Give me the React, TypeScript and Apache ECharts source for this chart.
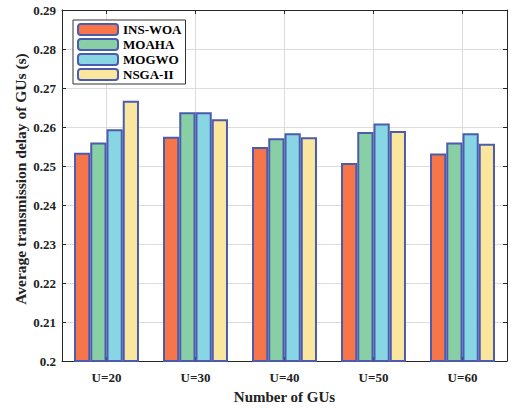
import React, { useEffect, useRef } from "react";
import * as echarts from "echarts";

const categories = ["U=20", "U=30", "U=40", "U=50", "U=60"];
const seriesNames = ["INS-WOA", "MOAHA", "MOGWO", "NSGA-II"];
const insWoa = [0.2534, 0.2575, 0.2549, 0.2508, 0.2532];
const moaha = [0.256, 0.2638, 0.2571, 0.2587, 0.256];
const mogwo = [0.2594, 0.2638, 0.2584, 0.2609, 0.2584];
const nsga2 = [0.2667, 0.262, 0.2574, 0.259, 0.2557];
const yTicks = { min: 0.2, max: 0.29, interval: 0.01 };
const yName = "Average transmission delay of GUs (s)";
const xName = "Number of GUs";

const colors = ["#F67649", "#88CFA5", "#88D5E3", "#FBE69D"];
const FONT = "'Liberation Serif', 'Times New Roman', serif";

export default function App() {
  const ref = useRef<HTMLDivElement>(null);
  useEffect(() => {
    if (!ref.current) return;
    const chart = echarts.init(ref.current, undefined, { renderer: "svg" });
    const values = [insWoa, moaha, mogwo, nsga2];
    const axisLine = { show: true, lineStyle: { color: "#262626", width: 1 } };
    chart.setOption({
      animation: false,
      backgroundColor: "#fff",
      textStyle: { fontFamily: FONT },
      grid: { left: 62, right: 4, top: 10, bottom: 48, containLabel: false },
      legend: {
        orient: "vertical",
        left: 73,
        top: 20,
        padding: [3, 4],
        itemWidth: 40,
        itemHeight: 11,
        itemGap: 2,
        backgroundColor: "#fff",
        borderColor: "#333",
        borderWidth: 1,
        borderRadius: 0,
        data: seriesNames,
        textStyle: { fontFamily: FONT, fontWeight: "bold", fontSize: 13, color: "#000", lineHeight: 13 },
      },
      graphic: [
        {
          type: "text",
          x: 20,
          y: 179,
          rotation: Math.PI / 2,
          style: {
            text: yName,
            font: `bold 15.5px ${FONT}`,
            fill: "#222",
            align: "center",
            verticalAlign: "middle",
          },
        },
      ],
      xAxis: [
        {
          type: "category",
          data: categories,
          position: "bottom",
          axisLine,
          axisTick: { show: true, inside: true, alignWithLabel: true, length: 4, lineStyle: { color: "#262626" } },
          axisLabel: { fontFamily: FONT, fontWeight: "bold", fontSize: 13, color: "#222", margin: 10 },
          splitLine: { show: true, alignWithLabel: true, lineStyle: { color: "#dcdcdc", width: 1 } },
          name: xName,
          nameLocation: "middle",
          nameGap: 28,
          nameTextStyle: { fontFamily: FONT, fontWeight: "bold", fontSize: 15, color: "#222" },
        },
        {
          type: "category",
          data: categories,
          position: "top",
          axisLine,
          axisTick: { show: true, inside: true, alignWithLabel: true, length: 4, lineStyle: { color: "#262626" } },
          axisLabel: { show: false },
          splitLine: { show: false },
        },
      ],
      yAxis: [
        {
          type: "value",
          min: yTicks.min,
          max: yTicks.max,
          interval: yTicks.interval,
          position: "left",
          axisLine,
          axisTick: { show: true, inside: true, length: 4, lineStyle: { color: "#262626" } },
          axisLabel: {
            fontFamily: FONT,
            fontWeight: "bold",
            fontSize: 13,
            color: "#222",
            margin: 6,
            formatter: (v: number) => String(parseFloat(v.toFixed(2))),
          },
          splitLine: { show: true, lineStyle: { color: "#dcdcdc", width: 1 } },
        },
        {
          type: "value",
          min: yTicks.min,
          max: yTicks.max,
          interval: yTicks.interval,
          position: "right",
          axisLine,
          axisTick: { show: true, inside: true, length: 4, lineStyle: { color: "#262626" } },
          axisLabel: { show: false },
          splitLine: { show: false },
        },
      ],
      series: seriesNames.map((name, i) => ({
        name,
        type: "bar",
        data: values[i],
        barGap: "0%",
        barCategoryGap: "27%",
        itemStyle: { color: colors[i], borderColor: "#4B5CB0", borderWidth: 2 },
      })),
    });
    return () => chart.dispose();
  }, []);
  return <div ref={ref} style={{ position: "absolute", left: 0, top: 0, width: 511, height: 409 }} />;
}
